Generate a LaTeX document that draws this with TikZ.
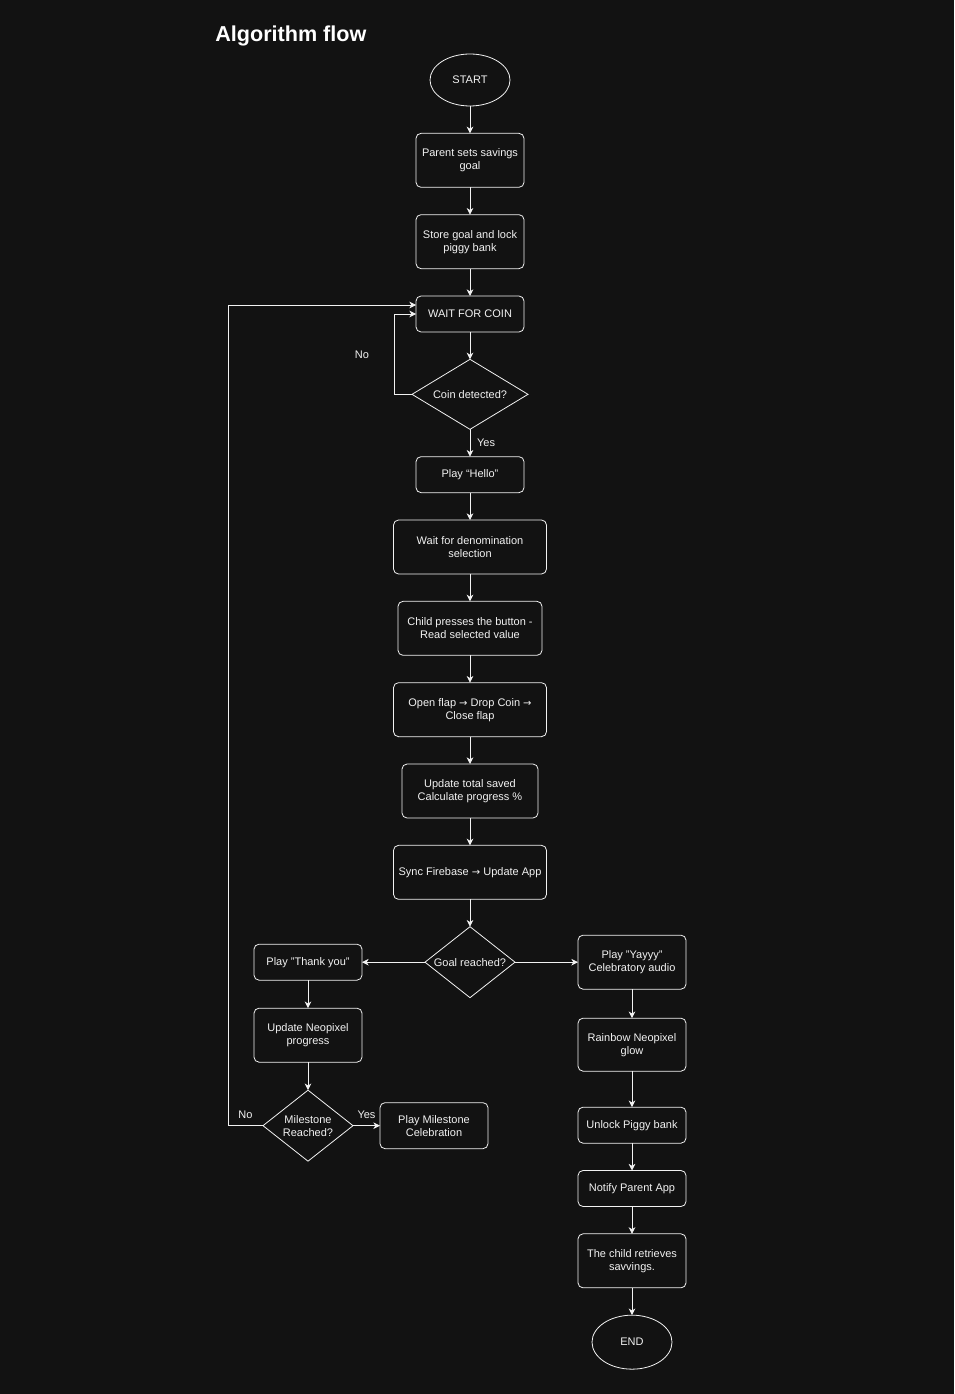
\documentclass[tikz,border=0pt]{standalone}
\usepackage{fontspec}
\setmainfont{Liberation Sans}
\newfontfamily\arrowfont{DejaVu Sans}
\newcommand{\rarr}{{\arrowfont\fontsize{7.5}{9}\selectfont →}}
\usetikzlibrary{arrows.meta, positioning, shapes.geometric}
\definecolor{bg}{HTML}{121212}
\definecolor{ink}{HTML}{F2F2F2}
\tikzset{
  blk/.style ={rectangle, rounded corners=3.75pt, draw=ink, fill=bg, text=ink, align=center, inner sep=2pt, outer sep=0pt, line width=0.6pt,
               font=\fontsize{8.25}{9.75}\selectfont, minimum width=81pt, minimum height=40.5pt},
  shortblk/.style ={blk, minimum height=27pt},
  wideblk/.style  ={blk, minimum width=114.75pt},
  term/.style ={ellipse, draw=ink, fill=bg, text=ink, line width=0.6pt, inner sep=0pt, outer sep=0pt,
               font=\fontsize{8.25}{9.75}\selectfont, minimum width=60pt, minimum height=39pt},
  dec/.style  ={diamond, draw=ink, fill=bg, text=ink, align=center, line width=0.6pt, inner sep=0pt, outer sep=0pt,
               font=\fontsize{8.25}{9.75}\selectfont},
  ttl/.style  ={text=white, inner sep=0pt, font=\fontsize{16.2}{19}\selectfont\bfseries},
  fl/.style   ={draw=ink, line width=0.6pt, -{Stealth[length=5pt, width=5pt, inset=1.5pt]}},
  lbl/.style  ={text=ink, inner sep=1pt, font=\fontsize{8.25}{9.75}\selectfont},
}
\begin{document}
\begin{tikzpicture}[x=0.75pt, y=0.75pt, node distance=20.5pt]
  \useasboundingbox[fill=bg] (0,0) rectangle (954,-1394);
  \node[ttl, anchor=west] (title) at (215,-36) {Algorithm flow};
  % main column
  \node[term] (start) at (470,-80) {START};
  \node[blk, below=of start] (setgoal) {Parent sets savings\\goal};
  \node[blk, below=of setgoal] (lock) {Store goal and lock\\piggy bank};
  \node[shortblk, below=of lock] (wait) {WAIT FOR COIN};
  \node[dec, aspect=1.66, minimum width=87pt, minimum height=52.5pt, below=of wait] (coin) {Coin detected?};
  \node[shortblk, below=of coin] (hello) {Play “Hello”};
  \node[wideblk, below=of hello] (denom) {Wait for denomination\\selection};
  \node[blk, minimum width=108pt, below=of denom] (press) {Child presses the button -\\Read selected value};
  \node[wideblk, below=of press] (flap) {Open flap \rarr{} Drop Coin \rarr\\Close flap};
  \node[blk, minimum width=102pt, below=of flap] (total) {Update total saved\\Calculate progress \%};
  \node[wideblk, below=of total] (sync) {Sync Firebase \rarr{} Update App};
  \node[dec, aspect=1.27, minimum width=67.5pt, minimum height=53.25pt, below=of sync] (goal) {Goal reached?};
  % not reached
  \node[shortblk, left=47.25pt of goal] (thanks) {Play "Thank you"};
  \node[blk, below=21pt of thanks] (neo) {Update Neopixel\\progress};
  \node[dec, aspect=1.27, minimum width=67.5pt, minimum height=53.25pt, below=21pt of neo] (mile) {Milestone\\Reached?};
  \node[blk, minimum height=34.5pt, right=20.25pt of mile] (celeb) {Play Milestone\\Celebration};
  % reached
  \node[blk, right=47.25pt of goal] (yay) {Play "Yayyy"\\Celebratory audio};
  \node[blk, minimum height=39.75pt, below=21.75pt of yay] (rainbow) {Rainbow Neopixel\\glow};
  \node[shortblk, below=27pt of rainbow] (unlock) {Unlock Piggy bank};
  \node[shortblk, below=of unlock] (notify) {Notify Parent App};
  \node[blk, below=of notify] (retrieve) {The child retrieves\\savvings.};
  \node[term, minimum height=40.5pt, below=of retrieve] (finish) {END};
  % connectors
  \draw[fl] (start) -- (setgoal);
  \draw[fl] (setgoal) -- (lock);
  \draw[fl] (lock) -- (wait);
  \draw[fl] (wait) -- (coin);
  \draw[fl] (coin.west) -- ++(-18,0) |- (wait.west);
  \node[lbl] (nolbl) at (362,-355) {No};
  \draw[fl] (coin) -- node[lbl, right=4pt]{Yes} (hello);
  \draw[fl] (hello) -- (denom);
  \draw[fl] (denom) -- (press);
  \draw[fl] (press) -- (flap);
  \draw[fl] (flap) -- (total);
  \draw[fl] (total) -- (sync);
  \draw[fl] (sync) -- (goal);
  \draw[fl] (goal) -- (thanks);
  \draw[fl] (goal) -- (yay);
  \draw[fl] (thanks) -- (neo);
  \draw[fl] (neo) -- (mile);
  \draw[fl] (mile) -- node[lbl, above=4pt]{Yes} (celeb);
  \draw[fl] (mile.west) -- node[lbl, above=4pt]{No} ++(-35,0) |- ([yshift=6.75pt]wait.west);
  \draw[fl] (yay) -- (rainbow);
  \draw[fl] (rainbow) -- (unlock);
  \draw[fl] (unlock) -- (notify);
  \draw[fl] (notify) -- (retrieve);
  \draw[fl] (retrieve) -- (finish);
\end{tikzpicture}
\end{document}
